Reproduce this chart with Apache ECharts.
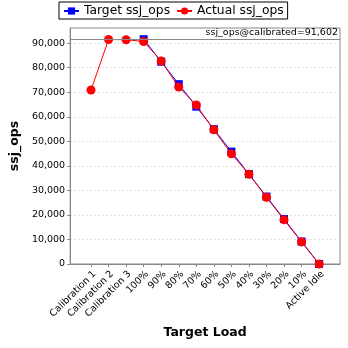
<!DOCTYPE html>
<html>
<head>
<meta charset="utf-8">
<script src="https://cdn.jsdelivr.net/npm/echarts@6/dist/echarts.min.js"></script>
<style>html,body{margin:0;padding:0;background:#fff;}#c{width:348px;height:348px;}</style>
</head>
<body>
<div id="c"></div>
<script>
var categories = ["Calibration 1","Calibration 2","Calibration 3","100%","90%","80%","70%","60%","50%","40%","30%","20%","10%","Active Idle"];
var targetOps = [null,null,null,91602,82442,73282,64121,54961,45801,36641,27481,18320,9160,0];
var actualOps = [70900,91500,91400,90700,82700,72100,64800,54700,44900,36600,27200,18000,9000,0];
var calibrated = 91602;
var yTicks = [0,10000,20000,30000,40000,50000,60000,70000,80000,90000];

function pairs(arr){ var out=[]; for(var i=0;i<arr.length;i++){ if(arr[i]!==null) out.push([i,arr[i]]); } return out; }
var idx = categories.map(function(c,i){return i;});
var font = 'DejaVu Sans';
var chart = echarts.init(document.getElementById('c'), null, {renderer:'canvas'});
chart.setOption({
  animation:false,
  textStyle:{fontFamily:font},
  legend:{
    left:59, top:2, padding:[3,4,2,4], itemGap:6, itemWidth:15, itemHeight:9,
    borderColor:'#000', borderWidth:1,
    textStyle:{fontFamily:font,fontSize:12.3,color:'#000'},
    data:['Target ssj_ops','Actual ssj_ops']
  },
  grid:{left:68,right:8,top:28,bottom:84,show:true,borderColor:'#888',borderWidth:1,containLabel:false},
  xAxis:{
    type:'value', min:-1.19, max:14.19,
    name:'Target Load', nameLocation:'middle', nameGap:59,
    nameTextStyle:{fontFamily:font,fontSize:12.5,fontWeight:'bold',color:'#000'},
    axisLine:{show:true,onZero:false,lineStyle:{color:'#888'}},
    axisTick:{show:true,customValues:idx,length:3,lineStyle:{color:'#888'}},
    axisLabel:{customValues:idx,rotate:45,margin:5,fontSize:9.5,color:'#000',fontFamily:font,verticalAlign:'top',
      formatter:function(v){return categories[Math.round(v)];}},
    splitLine:{show:false}
  },
  yAxis:{
    type:'value', min:0, max:96182,
    name:'ssj_ops', nameLocation:'middle', nameGap:41,
    nameTextStyle:{fontFamily:font,fontSize:12.5,fontWeight:'bold',color:'#000'},
    axisLine:{show:true,onZero:false,lineStyle:{color:'#888'}},
    axisTick:{show:true,customValues:yTicks,length:3,lineStyle:{color:'#888'}},
    axisLabel:{customValues:yTicks,margin:5,fontSize:9.5,color:'#000',fontFamily:font,
      formatter:function(v){return echarts.format.addCommas(v);}},
    splitLine:{show:true,lineStyle:{color:'#e0e0e0',type:[2,2],width:1}}
  },
  series:[
    {name:'Target ssj_ops',type:'line',data:pairs(targetOps),symbol:'rect',symbolSize:8,
     itemStyle:{color:'#0000ff'},lineStyle:{color:'#0000ff',width:1},z:2,
     markLine:{silent:true,symbol:'none',
       lineStyle:{color:'#888',width:1,type:'solid'},
       label:{show:true,position:'insideEndTop',formatter:'ssj_ops@calibrated=91,602',fontFamily:font,fontSize:9.5,color:'#000',distance:[2,2]},
       data:[{yAxis:calibrated}]}},
    {name:'Actual ssj_ops',type:'line',data:pairs(actualOps),symbol:'circle',symbolSize:9,
     itemStyle:{color:'#ff0000'},lineStyle:{color:'#ff0000',width:1},z:3}
  ]
});
</script>
</body>
</html>
